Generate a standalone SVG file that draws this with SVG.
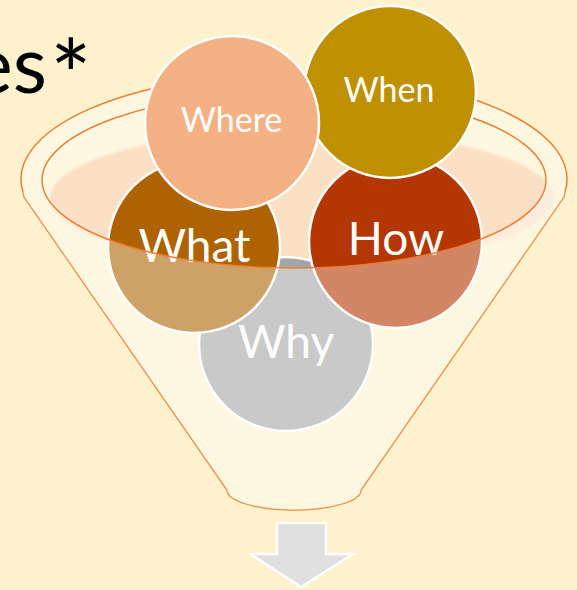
<svg xmlns="http://www.w3.org/2000/svg" width="577" height="590" viewBox="0 0 577 590">
  <defs>
    <style>
      .edge { fill: none; stroke: #ED7D31; stroke-width: 1.4; }
      .veil { fill: #FFFFFF; fill-opacity: 0.4; stroke: none; }
      .ball { stroke: #FFFFFF; stroke-width: 2.5; }
      .lbl { fill: #FFFFFF; font-family: Lato, "Open Sans", "Liberation Sans", sans-serif; text-anchor: middle; }
      .sm { font-size: 34px; }
      .lg { font-size: 46px; }
    </style>
    <filter id="soft" x="-10%" y="-20%" width="120%" height="140%">
      <feGaussianBlur stdDeviation="1.5"/>
    </filter>
  </defs>

  <rect x="0" y="0" width="577" height="590" fill="#FFF2CC"/>

  <text id="title" font-family="Lato, 'Open Sans', 'Liberation Sans', sans-serif" fill="#000000"><tspan x="47" y="93" font-size="79" text-anchor="end">es</tspan><tspan x="50" y="112" font-size="98" text-anchor="start">*</tspan></text>

  <g id="funnel-back">
    <path class="veil" d="M 23,192 A 273 106 0 1 1 565 192 L 546,180 A 252 88 0 0 1 42 180 Z"/>
    <ellipse cx="302" cy="198" rx="252" ry="68" fill="#FBE0C4" filter="url(#soft)"/>
    <path class="edge" d="M 23,192 L 24,197 L 227,490 A 67 20 0 0 0 361 490 L 564,197 L 565,192 A 273 106 0 1 0 23 192 Z"/>
    <path class="edge" d="M 42,180 A 252 88 0 0 1 546 180"/>
  </g>

  <g id="why">
    <circle class="ball" cx="286" cy="344" r="87" fill="#A5A5A5"/>
    <text class="lbl lg" x="286" y="358">Why</text>
  </g>
  <g id="what">
    <circle class="ball" cx="194" cy="247" r="86" fill="#AE6300"/>
    <text class="lbl lg" x="194.5" y="262">What</text>
  </g>
  <g id="how">
    <circle class="ball" cx="395.5" cy="241.5" r="86.5" fill="#B43600"/>
    <text class="lbl lg" x="396" y="255">How</text>
  </g>
  <g id="when">
    <circle class="ball" cx="390" cy="92" r="86" fill="#BF9000"/>
    <text class="lbl sm" x="389" y="102">When</text>
  </g>
  <g id="where">
    <circle class="ball" cx="232" cy="123" r="87" fill="#F4B183"/>
    <text class="lbl sm" x="231.5" y="132">Where</text>
  </g>

  <g id="funnel-front">
    <path class="veil" d="M 42,180 A 252 88 0 0 0 546 180 L 565,192 L 564,197 L 361,490 A 67 20 0 0 1 227 490 L 24,197 L 23,192 Z"/>
    <path class="edge" d="M 42,180 A 252 88 0 0 0 546 180"/>
  </g>

  <g id="connectors">
    <path id="arrow" d="M 277,523 L 326,523 L 326,554 L 353,554 L 301,587 L 250,554 L 277,554 Z" fill="#E0E0E0" stroke="#FFFFFF" stroke-width="2.5" stroke-linejoin="miter"/>
  </g>
</svg>
